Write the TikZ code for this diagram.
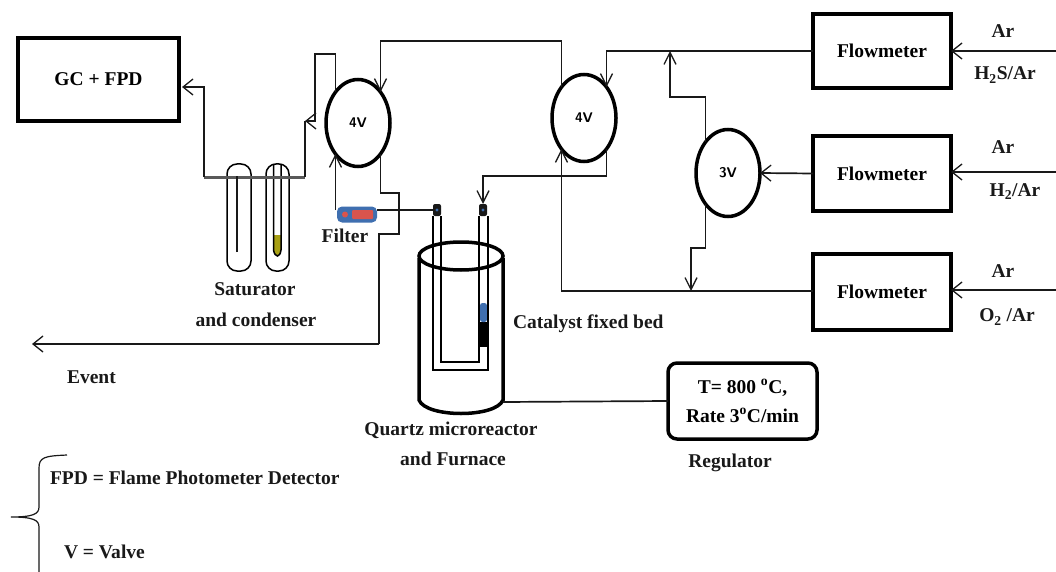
\documentclass[tikz,border=0pt]{standalone}
\usepackage{fontspec}
\setmainfont{Liberation Serif}
\usetikzlibrary{arrows.meta,shapes.geometric}
\definecolor{fblue}{HTML}{3F6FB0}
\definecolor{fred}{HTML}{D9544D}
\definecolor{liq}{HTML}{A8A014}
\tikzset{
  x=1pt,y=-1pt,
  lab/.style={font=\fontsize{19.5}{21}\selectfont\bfseries,inner sep=0pt,outer sep=0pt,text=black!90},
  box/.style={draw=black,line width=3.5pt,rectangle,inner sep=0pt,outer sep=0pt,fill=white,font=\fontsize{19.5}{21}\selectfont\bfseries},
  valve/.style={draw=black,line width=3.5pt,ellipse,inner sep=0pt,outer sep=0pt,minimum width=64pt,minimum height=87pt,font=\fontsize{14}{16}\selectfont\bfseries\sffamily},
  pipe/.style={draw=black!90,line width=1.7pt,line join=miter},
  flow/.style={pipe,-{Straight Barb[length=10pt,width=16pt,line width=1.3pt]}},
  flowv/.style={pipe,-{Straight Barb[length=12pt,width=12pt,line width=1.3pt]}},
  wall/.style={draw=black,line width=1.5pt},
  capn/.style={rectangle,rounded corners=2pt,fill=black!90,minimum width=8pt,minimum height=12pt,inner sep=0pt,outer sep=0pt}
}
\begin{document}
\begin{tikzpicture}
\useasboundingbox (0,0) rectangle (1056,572);
% main components
\node[box,minimum width=161pt,minimum height=83pt] (gc) at (98.5,79.5) {GC + FPD};
\node[box,minimum width=138pt,minimum height=74pt] (fm1) at (882,51) {Flowmeter};
\node[box,minimum width=138pt,minimum height=75pt] (fm2) at (882,173.5) {Flowmeter};
\node[box,minimum width=138pt,minimum height=76pt] (fm3) at (882,292) {Flowmeter};
\node[valve] (va) at (358,123) {4V};
\node[valve] (vb) at (584,118) {4V};
\node[valve] (vc) at (728,173) {3V};
\node[box,rounded corners=9pt,minimum width=149pt,minimum height=76pt,align=center] (reg) at (742.5,401) {T= 800 \textsuperscript{o}C,\\[8pt]Rate 3\textsuperscript{o}C/min};
% saturator and condenser
\draw[wall,rounded corners=10pt] (227,271) -- (227,164) -- (251,164) -- (251,271) -- cycle;
\draw[wall,rounded corners=10pt] (266,271) -- (266,164) -- (289,164) -- (289,271) -- cycle;
\fill[liq] (274,235) -- (281,235) -- (281,250) .. controls (280,258) and (275,258) .. (274,250) -- cycle;
\draw[wall] (273.5,164) -- (273.5,250) .. controls (275,258) and (280,258) .. (281,250) -- (281,164);
\draw[draw=black!65,line width=3pt] (204,177) -- (305,177);
\draw[pipe,line width=2pt] (237,252) -- (237,176);
% filter
\node[rectangle,rounded corners=5pt,fill=fblue,minimum width=40pt,minimum height=16pt,inner sep=0pt,outer sep=0pt] (filter) at (357,214.5) {};
\fill[fred] (345,214.5) circle (3pt);
\fill[fred,rounded corners=1pt] (352,210) rectangle (373,219);
% reactor
\node[ellipse,draw=black,line width=3.5pt,minimum width=84pt,minimum height=28pt,inner sep=0pt,outer sep=0pt] (rim) at (461,256) {};
\draw[draw=black,line width=3.5pt] (419,258) -- (419,400) .. controls (426,418) and (496,418) .. (503,400) -- (503,258);
\node[capn] (capl) at (437,210) {};
\node[capn] (capr) at (483,210) {};
\fill[fblue] (437,210) circle (1.6pt);
\fill[fblue] (483,210) circle (1.6pt);
\fill[black] (479,322) rectangle (488,347);
\fill[fblue,rounded corners=2.5pt] (480,303) rectangle (487,322);
\draw[wall] (433,216) -- (433,370) -- (488,370) -- (488,216);
\draw[wall] (441,216) -- (441,362) -- (479,362) -- (479,216);
\coordinate (furn) at (503,402);
\draw[pipe] (furn) -- (reg.west);
% pipe network
\coordinate (gcin) at (182,87);
\draw[flow] (204,177) -- (204,87) -- (gcin);
\coordinate (ta) at (305,121);
\draw[pipe] (305,177) -- (ta);
\draw[flow] (va.126) -- (va.126 |- 0,54) -- (315,54) -- (315,121) -- (ta);
\draw[flowv] (vb.126) -- (vb.126 |- 0,41) -- (va.54 |- 0,41) -- (va.54);
\draw[pipe] (va.306) -- (va.306 |- 0,193) -- (399,193) -- (399,234) -- (379,234) -- (379,344);
\coordinate (eventout) at (32,344);
\draw[flow] (379,344) -- (eventout);
\draw[pipe] (capl.west) -- (377,210);
\draw[flowv] (va.234 |- capl.west) -- (va.234);
\draw[flowv] (vb.306) -- (vb.306 |- 0,176) -- (capr |- 0,176) -- (capr.north);
\draw[flowv] (fm1.west) -- (vb.54 |- fm1.west) -- (vb.54);
\coordinate (jup) at (670,51);
\draw[flowv] (vc.126) -- (vc.126 |- 0,97) -- (jup |- 0,97) -- (jup);
\draw[flow] (fm2.west) -- (vc.east);
\coordinate (jdn) at (691,291);
\draw[flowv] (vc.234) -- (vc.234 |- 0,248) -- (jdn |- 0,248) -- (jdn);
\draw[flowv] (fm3.west |- jdn) -- (vb.234 |- jdn) -- (vb.234);
% gas inlets
\coordinate (ia) at (1056,51);
\coordinate (ib) at (1056,172);
\coordinate (ic) at (1056,290);
\draw[flow,line width=2pt] (ia) -- (fm1.east |- ia);
\draw[flow,line width=2pt] (ib) -- (fm2.east |- ib);
\draw[flow] (ic) -- (fm3.east |- ic);
% labels
\node[lab] (l1) at (1003,31) {Ar};
\node[lab] (l2) at (1005,75) {H\textsubscript{2}S/Ar};
\node[lab] (l3) at (1003,147) {Ar};
\node[lab] (l4) at (1015,192) {H\textsubscript{2}/Ar};
\node[lab] (l5) at (1003,271) {Ar};
\node[lab] (l6) at (1007,317) {O\textsubscript{2} /Ar};
\node[lab] (l7) at (345,236) {Filter};
\node[lab] (l8) at (255,289) {Saturator};
\node[lab] (l9) at (256,320) {and condenser};
\node[lab,anchor=west] (l10) at (513,324) {Catalyst fixed bed};
\node[lab] (l11) at (451,430) {Quartz microreactor};
\node[lab] (l12) at (453,459) {and Furnace};
\node[lab] (l13) at (730,463) {Regulator};
\node[lab,anchor=west] (l14) at (67,377) {Event};
\node[lab,anchor=west] (l15) at (50,478) {FPD = Flame Photometer Detector};
\node[lab,anchor=west] (l16) at (64,552) {V = Valve};
% brace
\draw[pipe,line width=1.2pt] (67,455) .. controls (45,456) and (39,457) .. (39,468) -- (39,507) .. controls (39,514) and (33,517) .. (11,517) .. controls (33,517) and (39,520) .. (39,527) -- (39,572);
\end{tikzpicture}
\end{document}
